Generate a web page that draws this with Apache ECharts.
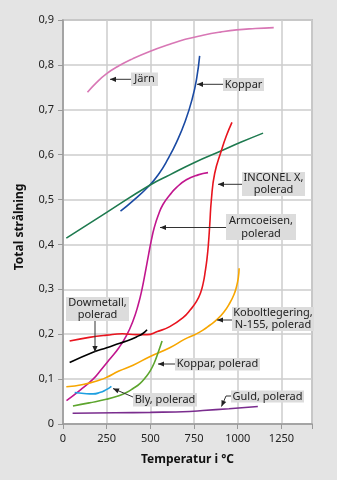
<!DOCTYPE html>
<html><head><meta charset="utf-8">
<script src="https://cdn.jsdelivr.net/npm/echarts@6/dist/echarts.min.js"></script>
<style>html,body{margin:0;padding:0;background:#e4e4e4}#c{width:337px;height:480px}</style>
</head><body><div id="c"></div>
<script>
// ---- data (temperature °C, total radiation) ----
const jarn = [[140,0.739],[190,0.760],[248,0.780],[320,0.798],[400,0.814],[496,0.830],[611,0.846],[700,0.857],[801,0.866],[900,0.873],[993,0.878],[1100,0.881],[1206,0.883]];
const koppar = [[329,0.474],[400,0.497],[496,0.532],[550,0.558],[600,0.590],[650,0.628],[700,0.675],[740,0.725],[765,0.770],[782,0.820]];
const grafit = [[19,0.414],[248,0.471],[496,0.532],[611,0.555],[750,0.582],[897,0.607],[1020,0.628],[1145,0.648]];
const armco = [[20,0.052],[100,0.076],[172,0.100],[210,0.117],[267,0.144],[320,0.170],[363,0.197],[401,0.230],[430,0.265],[452,0.300],[472,0.340],[490,0.378],[506,0.410],[522,0.437],[545,0.465],[572,0.489],[611,0.510],[650,0.527],[706,0.544],[773,0.555],[830,0.560]];
const inconel = [[38,0.185],[150,0.193],[250,0.198],[340,0.201],[420,0.199],[480,0.199],[540,0.206],[611,0.217],[687,0.237],[730,0.255],[764,0.273],[787,0.292],[803,0.315],[814,0.340],[824,0.368],[832,0.400],[840,0.445],[849,0.499],[868,0.558],[907,0.610],[935,0.642],[967,0.672]];
const dowmetall = [[38,0.137],[172,0.160],[250,0.170],[325,0.180],[380,0.187],[420,0.194],[455,0.201],[481,0.210]];
const kobolt = [[19,0.083],[115,0.088],[210,0.098],[250,0.104],[320,0.118],[401,0.131],[496,0.150],[611,0.170],[697,0.189],[754,0.199],[801,0.209],[840,0.220],[882,0.233],[920,0.249],[954,0.269],[978,0.288],[993,0.306],[1003,0.325],[1008,0.347]];
const kopparPol = [[57,0.040],[150,0.047],[248,0.055],[320,0.063],[363,0.070],[401,0.079],[440,0.090],[475,0.105],[500,0.119],[522,0.136],[545,0.160],[567,0.185]];
const bly = [[67,0.070],[120,0.068],[172,0.067],[210,0.070],[245,0.076],[277,0.084]];
const guld = [[55,0.024],[300,0.025],[500,0.026],[725,0.028],[800,0.030],[950,0.034],[1115,0.039]];

const seriesNames = ['Järn','Koppar','Grafit','Armcoeisen, polerad','INCONEL X, polerad','Dowmetall, polerad','Koboltlegering, N-155, polerad','Koppar, polerad','Bly, polerad','Guld, polerad'];
const seriesData = [jarn,koppar,grafit,armco,inconel,dowmetall,kobolt,kopparPol,bly,guld];
const seriesColors = ['#d877b5','#1a4aa3','#1e7a4f','#c1168e','#e8141e','#000000','#f7a600','#5da52e','#1e9fe0','#7a2d8e'];

const xTicks = [0,250,500,750,1000,1250];
const yTicks = ['0','0,1','0,2','0,3','0,4','0,5','0,6','0,7','0,8','0,9'];
const xTitle = 'Temperatur i °C';
const yTitle = 'Total strålning';

// annotations (pixel layout)
const notes = [
  {lines:['Järn'], box:[131,72.5,27,13.5], arrow:[[131,79.3],[110,79.3]]},
  {lines:['Koppar'], box:[223,78,41,13], arrow:[[223,84.3],[197,84.3]]},
  {lines:['INCONEL X,','polerad'], box:[242,172,63,24], arrow:[[242,184.3],[218,184.3]]},
  {lines:['Armcoeisen,','polerad'], box:[226,214,70,26], arrow:[[226,227.5],[160,227.5]]},
  {lines:['Dowmetall,','polerad'], box:[66,297,63,24], arrow:[[95,321],[95,352]]},
  {lines:['Koboltlegering,','N-155, polerad'], box:[232,307,82,24], arrow:[[232,320],[217,320]]},
  {lines:['Koppar, polerad'], box:[175,358,85,12.5], arrow:[[175,364],[158,364]]},
  {lines:['Bly, polerad'], box:[133,393,64,13.5], arrow:[[133,397],[113,388.5]]},
  {lines:['Guld, polerad'], box:[231,390.5,73,12], arrow:[[231,396],[226,396],[221.5,406.5]]}
];

const FONT = '"Noto Sans", "Open Sans", sans-serif';
const chart = echarts.init(document.getElementById('c'));

const graphics = [];
notes.forEach(n => {
  const [bx,by,bw,bh] = n.box;
  graphics.push({type:'rect', shape:{x:bx,y:by,width:bw,height:bh}, style:{fill:'#dcdcdc'}, z:10});
  const lh = bh / n.lines.length;
  n.lines.forEach((t,i) => {
    graphics.push({type:'text', x:bx+bw/2, y:by+lh*i+lh/2, style:{text:t, fill:'#222', font:'11px '+FONT, align:'center', verticalAlign:'middle'}, z:11});
  });
  const pts = n.arrow;
  graphics.push({type:'polyline', shape:{points:pts}, style:{stroke:'#333', lineWidth:1, fill:null}, z:11});
  const a = pts[pts.length-2], b = pts[pts.length-1];
  const ang = Math.atan2(b[1]-a[1], b[0]-a[0]);
  const L = 6, W = 2.6;
  const bx2 = b[0]-L*Math.cos(ang), by2 = b[1]-L*Math.sin(ang);
  graphics.push({type:'polygon', shape:{points:[b,[bx2+W*Math.sin(ang),by2-W*Math.cos(ang)],[bx2-W*Math.sin(ang),by2+W*Math.cos(ang)]]}, style:{fill:'#222'}, z:11});
});
// y axis title placed as text
graphics.push({type:'text', x:20, y:227, rotation:Math.PI/2, style:{text:yTitle, fill:'#111', font:'bold 12px '+FONT, align:'center', verticalAlign:'middle'}, z:11});

chart.setOption({
  backgroundColor:'#e4e4e4',
  animation:false,
  grid:{left:63, right:25, top:20, bottom:56, show:true, backgroundColor:'#ffffff', borderColor:'#a8a8a8', borderWidth:1.5},
  xAxis:{type:'value', min:0, max:1425, interval:250,
    name:xTitle, nameLocation:'middle', nameGap:30,
    nameTextStyle:{fontFamily:FONT, fontSize:12, fontWeight:'bold', color:'#111'},
    axisLine:{show:true, lineStyle:{color:'#999', width:1.5}},
    axisTick:{show:true, length:5, lineStyle:{color:'#999'}},
    axisLabel:{fontFamily:FONT, fontSize:11, color:'#222', margin:9,
      formatter:v => xTicks.indexOf(v) >= 0 ? String(v) : ''},
    splitLine:{show:true, lineStyle:{color:'#cccccc', width:1.5}}},
  yAxis:{type:'value', min:0, max:0.9, interval:0.1,
    axisLine:{show:true, lineStyle:{color:'#999', width:1.5}},
    axisTick:{show:true, length:5, lineStyle:{color:'#999'}},
    axisLabel:{fontFamily:FONT, fontSize:11, color:'#222', margin:9,
      formatter:v => yTicks[Math.round(v*10)]},
    splitLine:{show:true, lineStyle:{color:'#cccccc', width:1.5}}},
  series: seriesData.map((d,i) => ({
    name:seriesNames[i], type:'line', data:d, showSymbol:false, smooth:0.5,
    lineStyle:{color:seriesColors[i], width:1.6}, itemStyle:{color:seriesColors[i]}
  })),
  graphic: graphics
});
</script></body></html>
